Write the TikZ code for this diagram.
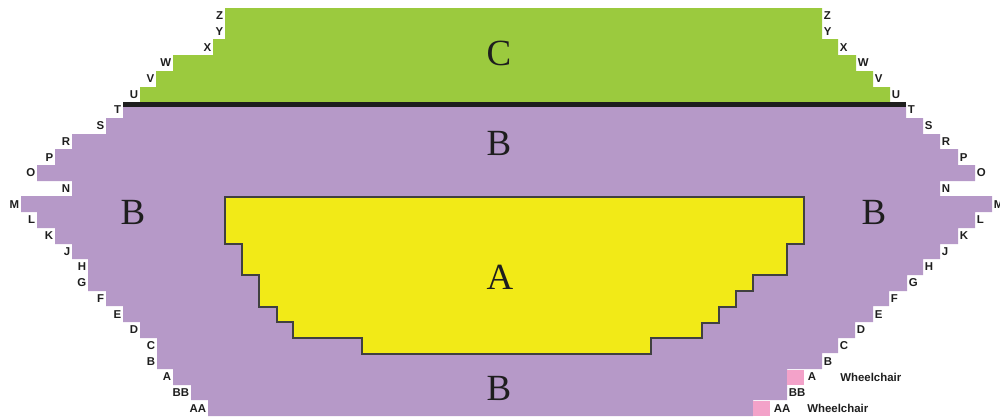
\documentclass[tikz,border=0pt]{standalone}
\usepackage{fontspec}
\setmainfont{Liberation Serif}
\setsansfont{Liberation Sans}
\usepackage{xcolor}
\usepackage{tikz}
\usetikzlibrary{positioning}
\definecolor{seatgreen}{HTML}{9BCA3E}
\definecolor{seatpurple}{HTML}{B699C8}
\definecolor{seatyellow}{HTML}{F2EA17}
\definecolor{wcpink}{HTML}{F3A2C9}
\definecolor{inkdark}{HTML}{1E1E1E}

\begin{document}
\begin{tikzpicture}[x=0.02cm, y=-0.02cm,
  rowlab/.style={font=\sffamily\bfseries\fontsize{6.5}{7}\selectfont, text=inkdark, inner sep=0pt},
  zone/.style={font=\fontsize{21}{24}\selectfont, text=inkdark, inner sep=0pt},
  wcseat/.style={rectangle, fill=wcpink, minimum width=0.34cm, minimum height=0.3cm, inner sep=0pt}
]
  \useasboundingbox (0,0) rectangle (1000,416);

  % section C
  \fill[seatgreen] (225,8) -- (822,8) -- (822,39) -- (838,39) -- (838,55) -- (856,55) -- (856,71)
    -- (873,71) -- (873,87) -- (890,87) -- (890,104) -- (140,104) -- (140,87) -- (156,87)
    -- (156,71) -- (173,71) -- (173,55) -- (213,55) -- (213,39) -- (225,39) -- cycle;

  % section B
  \fill[seatpurple] (123,104) -- (906,104) -- (906,118) -- (923,118) -- (923,134) -- (940,134)
    -- (940,149) -- (958,149) -- (958,165) -- (975,165) -- (975,181) -- (940,181) -- (940,196)
    -- (992,196) -- (992,212) -- (975,212) -- (975,228) -- (958,228) -- (958,244) -- (940,244)
    -- (940,259) -- (923,259) -- (923,275) -- (907,275) -- (907,291) -- (889,291) -- (889,306)
    -- (873,306) -- (873,322) -- (855,322) -- (855,338) -- (838,338) -- (838,353) -- (822,353)
    -- (822,369) -- (787,369) -- (787,400) -- (753,400) -- (753,416) -- (208,416) -- (208,400)
    -- (191,400) -- (191,385) -- (173,385) -- (173,369) -- (157,369) -- (157,338) -- (140,338)
    -- (140,322) -- (123,322) -- (123,306) -- (106,306) -- (106,291) -- (88,291) -- (88,259)
    -- (72,259) -- (72,244) -- (55,244) -- (55,228) -- (37,228) -- (37,212) -- (21,212)
    -- (21,196) -- (72,196) -- (72,181) -- (37,181) -- (37,165) -- (55,165) -- (55,149)
    -- (72,149) -- (72,134) -- (106,134) -- (106,118) -- (123,118) -- cycle;

  % divider between B and C
  \fill[inkdark] (123,101.5) rectangle (906,106.5);

  % section A
  \filldraw[fill=seatyellow, draw=inkdark!85, line width=0.7pt]
    (225,197) -- (804,197) -- (804,244) -- (787,244) -- (787,275) -- (753,275) -- (753,291)
    -- (736,291) -- (736,307) -- (719,307) -- (719,323) -- (702,323) -- (702,338) -- (651,338)
    -- (651,354) -- (362,354) -- (362,338) -- (293,338) -- (293,322) -- (277,322) -- (277,307)
    -- (259,307) -- (259,275) -- (242,275) -- (242,244) -- (225,244) -- cycle;

  % zone letters
  \node[zone] (zoneC)   at (499,53)    {C};
  \node[zone] (zoneBt)  at (499,143)   {B};
  \node[zone] (zoneBl)  at (133,212)   {B};
  \node[zone] (zoneBr)  at (874,212)   {B};
  \node[zone] (zoneA)   at (500,277.5) {A};
  \node[zone] (zoneBb)  at (499,388.5) {B};

  % row letters
  \foreach \lab/\xl/\xr [count=\k from 0] in {Z/225/822, Y/225/822, X/213/838, W/173/856,
      V/156/873, U/140/890, T/123/906, S/106/923, R/72/940, P/55/958, O/37/975, N/72/940,
      M/21/992, L/37/975, K/55/958, J/72/940, H/88/923, G/88/907, F/106/889, E/123/873,
      D/140/855, C/157/838, B/157/822, A/173/806, BB/191/787, AA/208/772}
  {
    \node[rowlab, anchor=east] (l\lab) at ({\xl-1.5},{15.85+15.7*\k}) {\lab};
    \node[rowlab, anchor=west] (r\lab) at ({\xr+1.5},{15.85+15.7*\k}) {\lab};
  }

  % wheelchair places
  \node[wcseat] (wcA)  at (795.5,377) {};
  \node[wcseat] (wcAA) at (761.5,408.5) {};
  \node[rowlab, anchor=west] (wcAlab)  at (840,377) {Wheelchair};
  \node[rowlab, anchor=west] (wcAAlab) at (807,408.5) {Wheelchair};
\end{tikzpicture}
\end{document}
